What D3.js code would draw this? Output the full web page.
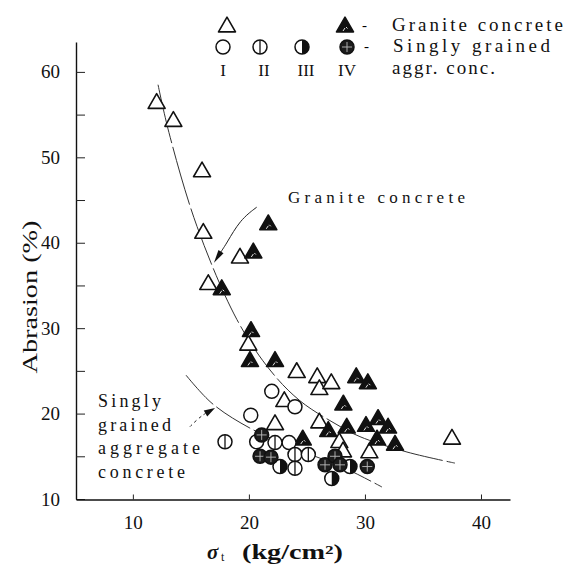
<!DOCTYPE html>
<html>
<head>
<meta charset="utf-8">
<script src="https://cdn.jsdelivr.net/npm/d3@7"></script>
<style>
  body { margin: 0; background: #fff; }
</style>
</head>
<body>
<svg id="vis"></svg>
<script>
var width = 583,
    height = 566,
    serif = "'Liberation Serif', 'DejaVu Serif', serif";

// tick values
var sigmaTicks = [10, 20, 30, 40];
var abrasionTicks = [10, 15, 20, 25, 30, 35, 40, 45, 50, 55, 60];

// [sigma_t, abrasion %]
var openTri = [[12.05, 56.3], [13.49, 54.2], [15.96, 48.3], [16.07, 41.1], [16.5, 35.1],
  [19.23, 38.2], [19.95, 28.0], [24.12, 24.8], [25.89, 24.2], [26.07, 22.8], [27.1, 23.5],
  [23.05, 21.4], [22.25, 18.7], [26.07, 18.9], [27.79, 16.6], [28.11, 15.5], [30.38, 15.4],
  [37.5, 17.0]];
var filledTri = [[20.18, 29.6], [20.09, 26.1], [22.25, 26.1], [21.67, 42.1], [20.38, 38.8],
  [17.66, 34.5], [29.25, 24.2], [30.25, 23.5], [28.14, 21.0], [26.84, 17.9], [28.43, 18.3],
  [30.09, 18.5], [31.13, 19.3], [31.99, 18.3], [31.04, 16.9], [32.59, 16.3], [24.64, 16.9]];
var circI = [[20.16, 19.8], [21.97, 22.6], [23.97, 20.8], [20.67, 16.7], [23.46, 16.6]];
var circII = [[17.94, 16.7], [22.25, 16.6], [23.97, 15.2], [25.12, 15.2], [23.97, 13.6]];
var circIII = [[22.68, 13.8], [27.14, 12.4], [28.71, 13.8]];
var circIV = [[21.1, 17.5], [20.96, 15.0], [21.9, 14.9], [26.56, 14.0], [27.42, 15.0],
  [27.85, 14.0], [30.2, 13.8]];

// hand drawn trend curves
var graniteCurve = [[12.17, 58.5], [13.11, 52.9], [15.53, 41.9], [18.97, 31.0], [21.82, 25.1],
  [24.4, 21.5], [27.59, 18.7], [29.57, 17.3], [33.62, 15.5], [37.76, 14.2]];
var singlyCurve = [[14.58, 24.5], [16.82, 21.2], [20.09, 18.3], [24.4, 15.7], [28.28, 13.6],
  [31.47, 11.4]];
var graniteArrow = [[20.67, 44.16], [19.23, 42.67], [18.09, 39.94], [17.51, 38.77], [16.99, 37.67]];
var singlyArrow = [[14.92, 18.47], [15.5, 19.25], [16.04, 19.84], [17.08, 20.66]];

var svg = d3.select('#vis').attr('width', width).attr('height', height);

var x = d3.scaleLinear().domain([5.1, 42.5]).range([76, 510]);
var y = d3.scaleLinear().domain([10, 63.5]).range([499, 42]);

// axes, ticks pointing inward
var yAxis = d3.axisLeft(y)
    .tickValues(abrasionTicks)
    .tickSize(-9)
    .tickSizeOuter(0)
    .tickPadding(16)
    .tickFormat(function(d) { return d % 10 === 0 ? d : ''; });

var xAxis = d3.axisBottom(x)
    .tickValues(sigmaTicks)
    .tickSize(-5)
    .tickSizeOuter(0)
    .tickPadding(16);

var gy = svg.append('g').attr('transform', 'translate(76,0)').call(yAxis);
var gx = svg.append('g').attr('transform', 'translate(0,499.5)').call(xAxis);

[gy, gx].forEach(function(g) {
  g.attr('font-family', serif).attr('font-size', 19);
  g.select('.domain').attr('stroke', '#111').attr('stroke-width', 1.4);
  g.selectAll('.tick line').attr('stroke', '#222').attr('stroke-width', 1);
  g.selectAll('.tick text').attr('fill', '#111');
});

// axis titles
svg.append('text')
    .attr('transform', 'translate(37,297) rotate(-90)')
    .attr('text-anchor', 'middle')
    .attr('font-family', serif)
    .attr('font-size', 21)
    .attr('textLength', 153)
    .attr('lengthAdjust', 'spacingAndGlyphs')
    .attr('fill', '#111')
    .text('Abrasion (%)');

svg.append('text')
    .attr('x', 207).attr('y', 559)
    .attr('font-family', serif).attr('font-size', 21).attr('font-style', 'italic')
    .attr('font-weight', 'bold').attr('fill', '#111')
    .text('σ');
svg.append('text')
    .attr('x', 221).attr('y', 561)
    .attr('font-family', serif).attr('font-size', 12).attr('fill', '#111')
    .text('t');
svg.append('text')
    .attr('x', 242).attr('y', 559)
    .attr('font-family', serif).attr('font-size', 20).attr('font-weight', 'bold')
    .attr('textLength', 101).attr('lengthAdjust', 'spacingAndGlyphs').attr('fill', '#111')
    .text('(kg/cm²)');

// trend curves
var curveLine = d3.line()
    .x(function(d) { return x(d[0]); })
    .y(function(d) { return y(d[1]); })
    .curve(d3.curveCatmullRom.alpha(0.5));

svg.append('path').attr('d', curveLine(graniteCurve))
    .attr('fill', 'none').attr('stroke', '#333').attr('stroke-width', 1)
    .attr('stroke-dasharray', '60,4');
svg.append('path').attr('d', curveLine(singlyCurve))
    .attr('fill', 'none').attr('stroke', '#333').attr('stroke-width', 1)
    .attr('stroke-dasharray', '40,4');

// markers
function marker(g, type) {
  if (type === 'T' || type === 'TF') {
    g.append('path')
        .attr('d', d3.symbol(d3.symbolTriangle, 125)())
        .attr('fill', type === 'TF' ? '#111' : '#fff')
        .attr('stroke', '#111').attr('stroke-width', 1.6)
        .attr('stroke-linejoin', 'round');
    if (type === 'TF') {
      g.append('path').attr('d', 'M-2,4 l2,-3 M1,0 l1.5,1.5')
          .attr('stroke', '#fff').attr('stroke-width', 0.9);
    }
  } else {
    var r = 7;
    g.append('circle').attr('r', r)
        .attr('fill', type === 'IV' ? '#1c1c1c' : '#fff')
        .attr('stroke', '#111').attr('stroke-width', 1.5);
    if (type === 'II') {
      g.append('line').attr('y1', -r).attr('y2', r)
          .attr('stroke', '#111').attr('stroke-width', 1.3);
    }
    if (type === 'III') {
      g.append('path').attr('d', 'M0,' + (-r) + ' A' + r + ',' + r + ' 0 0,1 0,' + r + ' Z')
          .attr('fill', '#111');
    }
    if (type === 'IV') {
      g.append('path')
          .attr('d', 'M' + (-r + 2) + ',0 H' + (r - 2) + ' M0,' + (-r + 2) + ' V' + (r - 2))
          .attr('stroke', '#bbb').attr('stroke-width', 0.9);
    }
  }
}

var series = [['T', openTri], ['TF', filledTri], ['I', circI], ['II', circII],
  ['III', circIII], ['IV', circIV]];

series.forEach(function(s) {
  svg.append('g').attr('class', 'series-' + s[0])
    .selectAll('g')
    .data(s[1])
    .enter()
    .append('g')
    .attr('transform', function(d) { return 'translate(' + x(d[0]) + ',' + y(d[1]) + ')'; })
    .each(function() { marker(d3.select(this), s[0]); });
});

// annotation arrows
function arrow(pts, dash, len, halfW) {
  var px = pts.map(function(d) { return [x(d[0]), y(d[1])]; });
  var tip = px[px.length - 1], prev = px[px.length - 2];
  var dx = tip[0] - prev[0], dy = tip[1] - prev[1], n = Math.sqrt(dx * dx + dy * dy);
  dx /= n; dy /= n;
  var bx = tip[0] - dx * len, by = tip[1] - dy * len;
  svg.append('path')
      .attr('d', d3.line().curve(d3.curveBasis)(px.slice(0, -1).concat([[bx, by]])))
      .attr('fill', 'none').attr('stroke', '#222').attr('stroke-width', 1)
      .attr('stroke-dasharray', dash);
  svg.append('path')
      .attr('d', 'M' + tip + 'L' + [bx - dy * halfW, by + dx * halfW] + 'L' + [bx + dy * halfW, by - dx * halfW] + 'Z')
      .attr('fill', '#111');
}
arrow(graniteArrow, null, 13, 3);
arrow(singlyArrow, '3,3', 11, 3.5);

// in-plot labels
function label(txt, x0, y0, len, size) {
  svg.append('text')
      .attr('x', x0).attr('y', y0)
      .attr('font-family', serif).attr('font-size', size)
      .attr('textLength', len).attr('lengthAdjust', 'spacing')
      .attr('fill', '#111')
      .text(txt);
}
label('Granite concrete', 288, 203, 177, 17);
label('Singly', 98, 407, 63, 18);
label('grained', 98, 431, 73, 18);
label('aggregate', 98, 454, 102, 18);
label('concrete', 98, 478, 87, 18);

// legend
var legendMarks = [['T', 227, 27], ['TF', 345, 27], ['I', 223, 47], ['II', 260, 47],
  ['III', 302, 47], ['IV', 347, 47]];
legendMarks.forEach(function(m) {
  marker(svg.append('g').attr('transform', 'translate(' + m[1] + ',' + m[2] + ')'), m[0]);
});
[['I', 223], ['II', 264], ['III', 306], ['IV', 347]].forEach(function(r) {
  svg.append('text')
      .attr('x', r[1]).attr('y', 76)
      .attr('text-anchor', 'middle')
      .attr('font-family', serif).attr('font-size', 17)
      .attr('fill', '#111')
      .text(r[0]);
});
svg.append('text').attr('x', 362).attr('y', 30).attr('font-family', serif).attr('font-size', 15).text('-');
svg.append('text').attr('x', 364).attr('y', 51).attr('font-family', serif).attr('font-size', 15).text('-');
label('Granite concrete', 392, 31, 171, 19);
label('Singly grained', 393, 52, 157, 19);
label('aggr. conc.', 392, 74, 103, 19);
</script>
</body>
</html>
